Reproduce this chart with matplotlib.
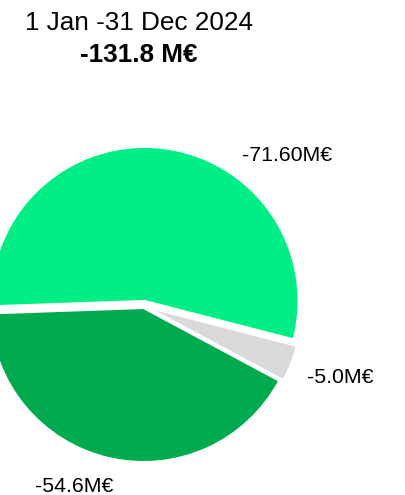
import matplotlib
matplotlib.use('Agg')
import matplotlib.pyplot as plt

plt.rcParams['font.family'] = ['Liberation Sans', 'DejaVu Sans']

# data
period = '1 Jan -31 Dec 2024'
total_label = '-131.8 M€'
values = [71.6, 5.0, 54.6]
labels = ['-71.60M€', '-5.0M€', '-54.6M€']
colors = ['#00EE86', '#D9D9D9', '#00AA4E']
explode = [0.033, 0.026, 0.0135]

W, H = 406, 495
fig = plt.figure(figsize=(W / 100, H / 100), dpi=100)

# pie centre / radius in pixels (from top-left)
cx, cy, r = 144, 306, 154
ax = fig.add_axes([(cx - r) / W, (H - cy - r) / H, 2 * r / W, 2 * r / H])
wedges, _ = ax.pie(values, colors=colors, explode=explode, startangle=182,
                   counterclock=False, radius=1,
                   wedgeprops=dict(linewidth=1.5, edgecolor='white'))
for w in wedges:
    w.set_clip_on(False)
ax.set_xlim(-1, 1)
ax.set_ylim(-1, 1)
ax.set_aspect('equal')
ax.axis('off')

def fx(x):
    return x / W

def fy(y):
    return 1 - y / H

fig.text(fx(139.5), fy(30), period, ha='center', va='baseline', fontsize=18.8)
fig.text(fx(139), fy(62.3), total_label, ha='center', va='baseline',
         fontsize=18.8, fontweight='bold')

# slice labels
label_pos = [(242, 160.7), (307, 383), (35, 492)]
for lab, (lx, ly) in zip(labels, label_pos):
    fig.text(fx(lx), fy(ly), lab, ha='left', va='baseline', fontsize=15.3)

fig.savefig('out.png', dpi=100)
